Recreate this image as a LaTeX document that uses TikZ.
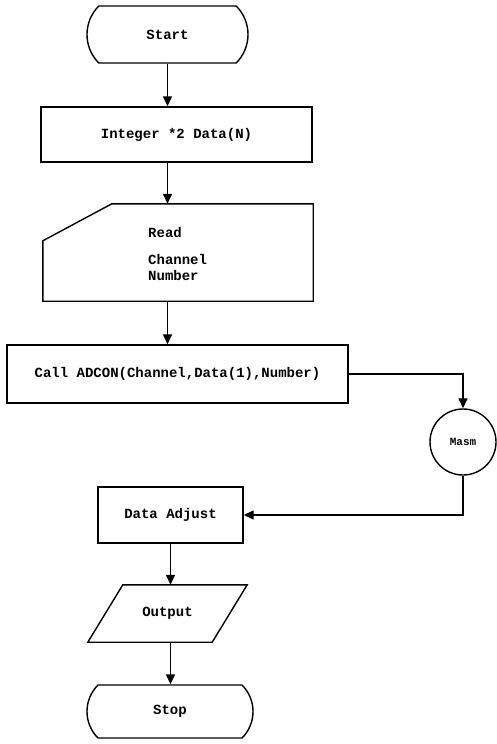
\documentclass[tikz,border=0pt]{standalone}
\usepackage{fontspec}
\setmonofont{Liberation Mono}
\usetikzlibrary{arrows.meta,shapes.misc}
\tikzset{
  box/.style={draw, line width=1.4pt, minimum width=#1, inner sep=0pt},
  term/.style={draw, line width=1.4pt, rounded rectangle, rounded rectangle arc length=90, inner sep=0pt},
  ghost/.style={inner sep=0pt},
  lbl/.style={font=\ttfamily\bfseries\fontsize{14}{16}\selectfont, inner sep=0pt},
  arr/.style={line width=1.4pt, -{Triangle[length=10pt,width=9pt]}},
  outline/.style={line width=1.4pt, line join=miter}
}
\begin{document}
\begin{tikzpicture}[x=1pt,y=-1pt]
\useasboundingbox (0,0) rectangle (497,744);
% nodes
\node[term, minimum width=161pt, minimum height=57pt, lbl] (start) at (167.5,34.5) {Start};
\node[box=271pt, minimum height=55pt, lbl] (int) at (176.5,134.5) {Integer *2 Data(N)};
\node[ghost, minimum width=270pt, minimum height=97pt] (read) at (178,252.5) {};
\node[lbl, align=left, anchor=north west] (readtxt) at (148,227) {Read\\[11pt]Channel\\Number};
\node[box=341pt, minimum height=58pt, lbl] (call) at (177.5,374) {Call ADCON(Channel,Data(1),Number)};
\node[draw, circle, line width=1.4pt, minimum size=66pt, inner sep=0pt, lbl, font=\ttfamily\bfseries\fontsize{11}{13}\selectfont] (masm) at (463,442) {Masm};
\node[box=145pt, minimum height=56pt, lbl] (adj) at (170.5,515) {Data Adjust};
\node[ghost, minimum width=159pt, minimum height=57pt, lbl] (out) at (167.5,613.5) {Output};
\node[term, minimum width=166pt, minimum height=53pt, lbl] (stop) at (170,711.5) {Stop};
% custom outlines
\draw[outline] ([xshift=69pt]read.north west) -- (read.north east) -- (read.south east) -- (read.south west) -- ([yshift=-37pt]read.north west) -- cycle;
\draw[outline] ([xshift=35pt]out.north west) -- (out.north east) -- ([xshift=-35pt]out.south east) -- (out.south west) -- cycle;
% connectors
\draw[arr] (start.south) -- (start.south |- int.north);
\draw[arr] (int.south -| start.south) -- (read.north -| start.south);
\draw[arr] (read.south -| start.south) -- (call.north -| start.south);
\draw[arr] (call.east) -| (masm.north);
\draw[arr] (masm.south) |- (adj.east);
\draw[arr] (adj.south) -- (adj.south |- out.north);
\draw[arr] (out.south -| adj.south) -- (stop.north -| adj.south);
\end{tikzpicture}
\end{document}
